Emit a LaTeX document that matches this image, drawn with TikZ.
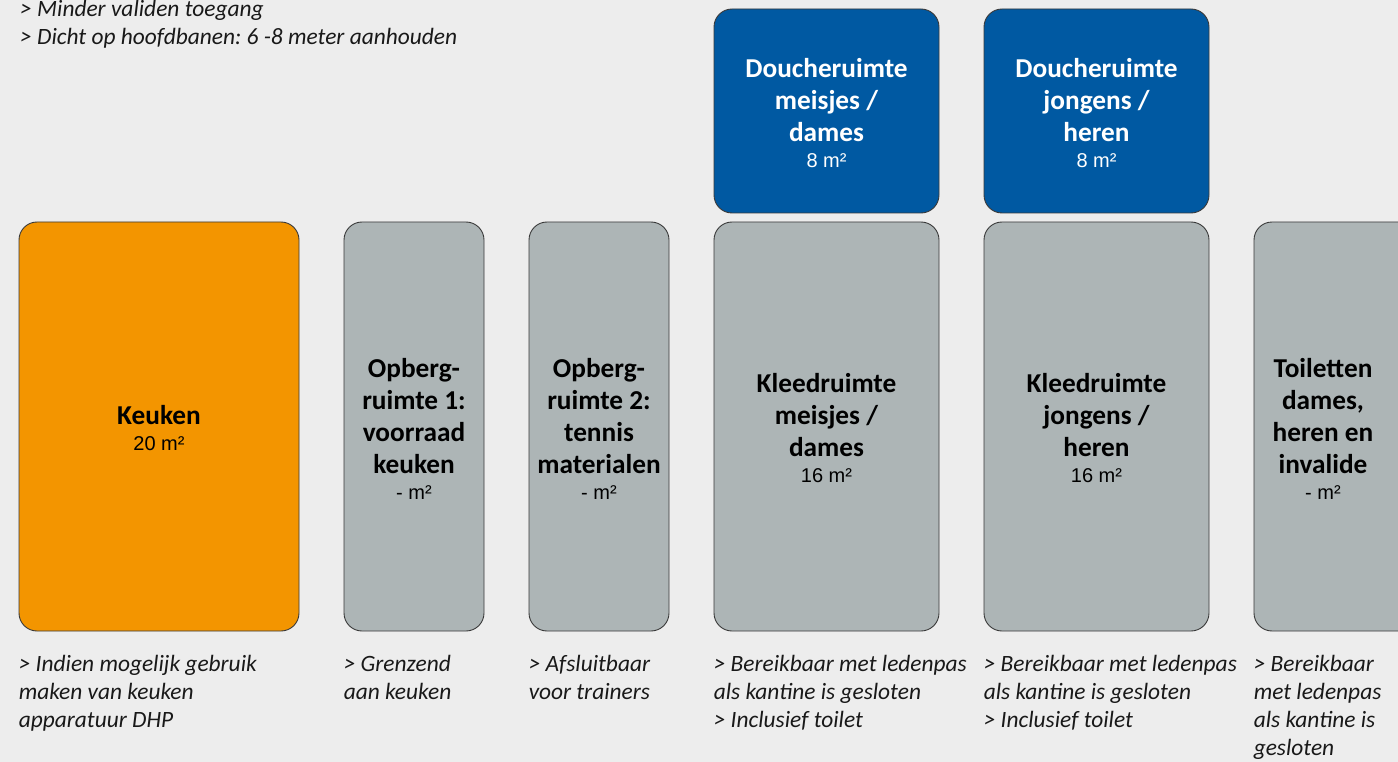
\documentclass[tikz,border=0pt]{standalone}
\usepackage{fontspec}
\setmainfont{Carlito}
\newfontfamily\arialf{Liberation Sans}
\frenchspacing
\definecolor{bg}{HTML}{EDEDED}
\definecolor{kitchen}{HTML}{F39500}
\definecolor{roomgray}{HTML}{ADB5B6}
\definecolor{shower}{HTML}{0059A2}
\definecolor{edge}{HTML}{3A3A3A}
\newcommand{\area}[1]{\\[-6pt]{\arialf\mdseries\fontsize{20}{24}\selectfont #1}}
\tikzset{
  room/.style={draw=edge, line width=0.9pt, rounded corners=18pt, inner sep=0pt,
    align=center, font=\bfseries\fontsize{27.3}{32}\selectfont},
  graybox/.style={room, fill=roomgray, text=black, minimum height=409pt},
  bluebox/.style={room, fill=shower, text=white, minimum width=225pt, minimum height=204pt},
  note/.style={anchor=base west, inner sep=0pt, align=left,
    font=\itshape\fontsize{23.4}{28.3}\selectfont, text=black!90},
  rtxt/.style={inner sep=0pt, align=center, font=\bfseries\fontsize{27.3}{32}\selectfont}
}
\begin{document}
\begin{tikzpicture}[x=1pt,y=-1pt]
\path[use as bounding box, fill=bg] (0,0) rectangle (1398,762);
\begin{scope}
\clip (0,0) rectangle (1398,762);
% top notes (anchor = baseline of last line)
\node[note] (topnote) at (20,44.5) {> Minder validen toegang\\> Dicht op hoofdbanen: 6 -8 meter aanhouden};
% shower rooms
\node[bluebox] (showerg) at (826.5,111) {};
\node[bluebox] (showerb) at (1096.5,111) {};
\node[rtxt, text=white] (showergtxt) at (826.5,113.5) {Doucheruimte\\meisjes /\\dames\area{8 m²}};
\node[rtxt, text=white] (showerbtxt) at (1096.5,113.5) {Doucheruimte\\jongens /\\heren\area{8 m²}};
% main rooms
\node[graybox, fill=kitchen, minimum width=280pt] (keuken) at (159,426.5) {};
\node[graybox, minimum width=140pt] (opb1) at (414,426.5) {};
\node[graybox, minimum width=140pt] (opb2) at (599,426.5) {};
\node[graybox, minimum width=225pt] (kleedg) at (826.5,426.5) {};
\node[graybox, minimum width=225pt] (kleedb) at (1096.5,426.5) {};
\node[graybox, minimum width=170pt] (toilet) at (1339,426.5) {};
\node[rtxt] (keukentxt) at (159,428.5) {Keuken\area{20 m²}};
\node[rtxt] (opb1txt) at (414,428.5) {Opberg-\\ruimte 1:\\voorraad\\keuken\area{- m²}};
\node[rtxt] (opb2txt) at (599,428.5) {Opberg-\\ruimte 2:\\tennis\\materialen\area{- m²}};
\node[rtxt] (kleedgtxt) at (826.5,428.5) {Kleedruimte\\meisjes /\\dames\area{16 m²}};
\node[rtxt] (kleedbtxt) at (1096.5,428.5) {Kleedruimte\\jongens /\\heren\area{16 m²}};
\node[rtxt] (toilettxt) at (1323,428.5) {Toiletten\\dames,\\heren en\\invalide\area{- m²}};
% notes below (anchor = baseline of last line)
\node[note] (nkeuken) at (keuken.south west |- 0,727.6) {> Indien mogelijk gebruik\\maken van keuken\\apparatuur DHP};
\node[note] (nopb1) at (opb1.south west |- 0,699.3) {> Grenzend\\aan keuken};
\node[note] (nopb2) at (opb2.south west |- 0,699.3) {> Afsluitbaar\\voor trainers};
\node[note] (nkleedg) at (kleedg.south west |- 0,727.6) {> Bereikbaar met ledenpas\\als kantine is gesloten\\> Inclusief toilet};
\node[note] (nkleedb) at (kleedb.south west |- 0,727.6) {> Bereikbaar met ledenpas\\als kantine is gesloten\\> Inclusief toilet};
\node[note] (ntoilet) at (toilet.south west |- 0,755.9) {> Bereikbaar\\met ledenpas\\als kantine is\\gesloten};
\end{scope}
\end{tikzpicture}
\end{document}
